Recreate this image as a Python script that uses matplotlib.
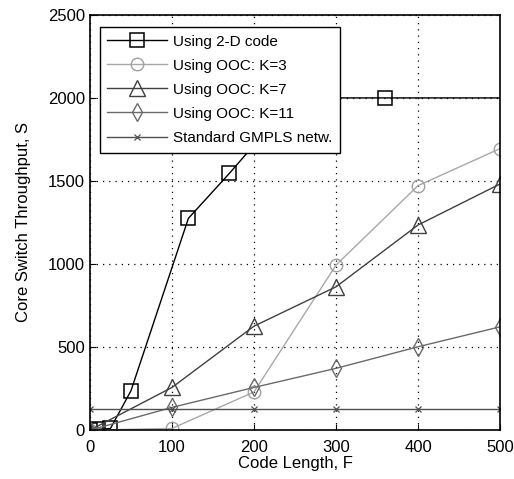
import matplotlib
matplotlib.use('Agg')
import matplotlib.pyplot as plt

# values
f_2d = [0, 10, 25, 50, 120, 170, 250, 360, 500]
s_2d = [0, 5, 10, 237, 1275, 1546, 2000, 2000, 2000]

f_ooc = [0, 100, 200, 300, 400, 500]
s_k3 = [0, 10, 230, 994, 1472, 1695]
s_k7 = [0, 257, 626, 863, 1235, 1482]
s_k11 = [0, 137, 257, 372, 502, 622]
s_gmpls = [130, 130, 130, 130, 130, 130]

labels = ['Using 2-D code', 'Using OOC: K=3', 'Using OOC: K=7',
          'Using OOC: K=11', 'Standard GMPLS netw.']

plt.rcParams['font.family'] = ['Liberation Sans', 'DejaVu Sans']

fig = plt.figure(figsize=(5.14, 4.79), dpi=100)
ax = fig.add_axes([0.175, 0.102, 0.798, 0.867])

ax.plot(f_2d, s_2d, color='black', lw=1.0, marker='s', ms=10, mfc='none',
        mec='black', mew=1.1, markevery=list(range(len(f_2d) - 1)),
        label=labels[0])
ax.plot(f_ooc, s_k3, color='#a8a8a8', lw=1.0, marker='o', ms=9, mfc='none',
        mec='#a0a0a0', mew=1.0, label=labels[1])
ax.plot(f_ooc, s_k7, color='#404040', lw=1.0, marker='^', ms=11, mfc='none',
        mec='#404040', mew=1.0, label=labels[2])
ax.plot(f_ooc, s_k11, color='#6a6a6a', lw=1.0, marker='d', ms=9, mfc='none',
        mec='#6a6a6a', mew=1.0, label=labels[3])
ax.plot(f_ooc, s_gmpls, color='#505050', lw=1.0, marker='x', ms=5, mfc='none',
        mec='#505050', mew=0.9, label=labels[4])

ax.set_xlim(0, 500)
ax.set_ylim(0, 2500)
ax.set_xticks([0, 100, 200, 300, 400, 500])
ax.set_yticks([0, 500, 1000, 1500, 2000, 2500])
ax.tick_params(direction='in', labelsize=12, length=4, color='black')
ax.tick_params(axis='x', pad=7)
ax.grid(True, linestyle=(0, (1, 4)), color='black', lw=0.9)
for sp in ax.spines.values():
    sp.set_linewidth(1.2)

ax.set_xlabel('Code Length, F', fontsize=12, labelpad=1)
ax.set_ylabel('Core Switch Throughput, S', fontsize=12, labelpad=12)

leg = ax.legend(loc='upper left', bbox_to_anchor=(0.024, 0.971),
                borderaxespad=0, fontsize=11,
                frameon=True, fancybox=False, edgecolor='black',
                framealpha=1.0, handlelength=3.9, borderpad=0.5,
                labelspacing=0.66, handletextpad=0.4)
leg.get_frame().set_linewidth(1.0)

fig.savefig('out.png', dpi=100)
